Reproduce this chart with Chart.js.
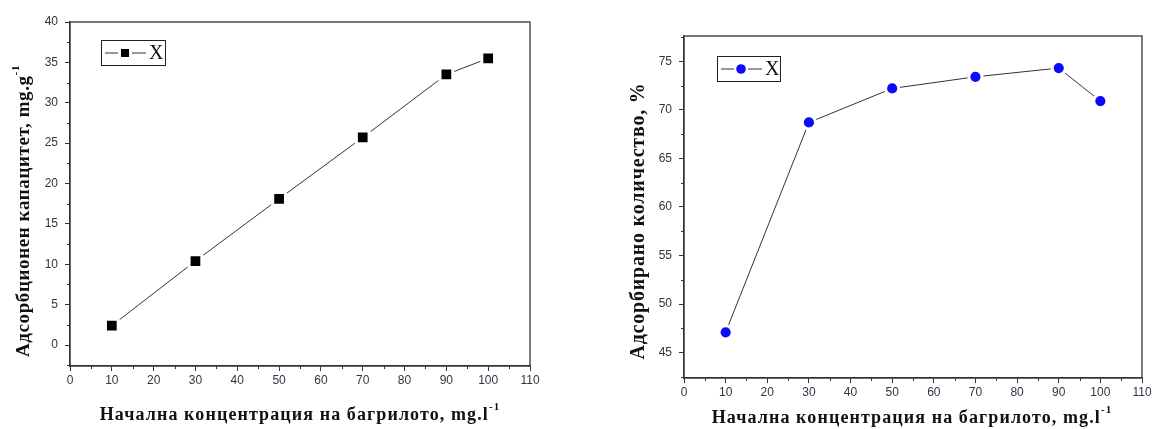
<!DOCTYPE html>
<html>
<head>
<meta charset="utf-8">
<script src="https://cdn.jsdelivr.net/npm/chart.js@4/dist/chart.umd.min.js"></script>
<style>
  body { margin: 0; background: #fff; }
  canvas { position: absolute; top: 0; }
  #left { left: 0; }
  #right { left: 580px; }
</style>
</head>
<body>
<canvas id="left" width="580" height="429"></canvas>
<canvas id="right" width="574" height="429"></canvas>
<script>
"use strict";

// Данни, отчетени от графиките
const concentrations = [10, 30, 50, 70, 90, 100];
const capacityValues = [2.4, 10.4, 18.1, 25.7, 33.5, 35.5];
const removalValues = [47.1, 68.7, 72.2, 73.4, 74.3, 70.9];
const seriesName = "X";
const xTitle = "Начална концентрация на багрилото, mg.l";
const leftYTitle = "Адсорбционен капацитет, mg.g";
const rightYTitle = "Адсорбирано количество, %";
const unitSup = "-1";

const axisColor = "#333";
const tickFont = { family: "'Liberation Sans', Arial, sans-serif", size: 12 };
const serif = "'Liberation Serif', 'Times New Roman', serif";

// текст с горен индекс, центриран в (x, y)
function drawSupText(ctx, main, sup, x, y, size, spacing) {
  ctx.save();
  ctx.letterSpacing = spacing + "px";
  ctx.font = "bold " + size + "px " + serif;
  const wMain = ctx.measureText(main).width;
  ctx.font = "bold " + Math.round(size * 0.6) + "px " + serif;
  const wSup = sup ? ctx.measureText(sup).width : 0;
  const start = x - (wMain + wSup) / 2;
  ctx.fillStyle = "#111";
  ctx.textAlign = "left";
  ctx.textBaseline = "middle";
  ctx.font = "bold " + size + "px " + serif;
  ctx.fillText(main, start, y);
  if (sup) {
    ctx.font = "bold " + Math.round(size * 0.6) + "px " + serif;
    ctx.fillText(sup, start + wMain, y - size * 0.42);
  }
  ctx.restore();
}

const decorPlugin = {
  id: "decor",
  afterDraw(chart, args, o) {
    const ctx = chart.ctx;
    const a = chart.chartArea;
    const xs = chart.scales.x;
    const ys = chart.scales.y;
    ctx.save();
    // рамка
    ctx.strokeStyle = axisColor;
    ctx.lineWidth = 1.3;
    ctx.strokeRect(a.left, a.top, a.right - a.left, a.bottom - a.top);
    // малки деления
    ctx.lineWidth = 1;
    ctx.beginPath();
    for (let v = 5; v < xs.max; v += 10) {
      const px = Math.round(xs.getPixelForValue(v)) + 0.5;
      ctx.moveTo(px, a.bottom);
      ctx.lineTo(px, a.bottom + 3);
    }
    for (let v = o.yMinorStart; v < ys.max; v += o.yMinorStep) {
      if (v <= ys.min) continue;
      const py = Math.round(ys.getPixelForValue(v)) + 0.5;
      ctx.moveTo(a.left, py);
      ctx.lineTo(a.left - 3, py);
    }
    ctx.stroke();

    // легенда
    const L = o.legend;
    ctx.lineWidth = 1;
    ctx.strokeStyle = "#222";
    ctx.strokeRect(L.x + 0.5, L.y + 0.5, L.w, L.h);
    const cy = L.y + L.h / 2 + 0.5;
    ctx.strokeStyle = "#333";
    ctx.beginPath();
    ctx.moveTo(L.x + 4, cy);
    ctx.lineTo(L.x + 17, cy);
    ctx.moveTo(L.x + 31, cy);
    ctx.lineTo(L.x + 45, cy);
    ctx.stroke();
    ctx.fillStyle = o.markerColor;
    if (o.marker === "rect") {
      ctx.fillRect(L.x + 20, cy - 4, 8, 8);
    } else {
      ctx.beginPath();
      ctx.arc(L.x + 24, cy, 4.8, 0, Math.PI * 2);
      ctx.fill();
    }
    ctx.fillStyle = "#111";
    ctx.font = "20px " + serif;
    ctx.textBaseline = "middle";
    ctx.textAlign = "left";
    ctx.fillText(seriesName, L.x + 48, cy + 1);
    ctx.restore();

    // заглавия на осите
    drawSupText(ctx, xTitle, unitSup, o.xTitle.x, o.xTitle.y, 18, 1.1);
    ctx.save();
    ctx.translate(o.yTitle.x, o.yTitle.y);
    ctx.rotate(-Math.PI / 2);
    drawSupText(ctx, o.yTitle.text, o.yTitle.sup, 0, 0, o.yTitle.size, o.yTitle.spacing);
    ctx.restore();
  }
};

function makeChart(id, values, cfg) {
  const canvas = document.getElementById(id);
  return new Chart(canvas.getContext("2d"), {
    type: "line",
    data: {
      labels: concentrations,
      datasets: [{
        label: seriesName,
        data: concentrations.map((c, i) => ({ x: c, y: values[i] })),
        borderColor: "#333",
        borderWidth: 1,
        backgroundColor: cfg.markerColor,
        pointStyle: cfg.marker,
        pointRadius: cfg.pointRadius,
        pointBorderColor: "#fff",
        pointBorderWidth: 3,
        tension: 0
      }]
    },
    options: {
      responsive: false,
      animation: false,
      devicePixelRatio: 1,
      layout: { padding: cfg.padding },
      plugins: {
        legend: { display: false },
        tooltip: { enabled: false },
        decor: cfg.decor
      },
      scales: {
        x: {
          type: "linear",
          min: 0,
          max: 110,
          afterFit: s => { s.height = cfg.xHeight; },
          border: { display: true, color: axisColor, width: 1.3 },
          grid: { drawOnChartArea: false, drawTicks: true, tickLength: 5, color: axisColor },
          ticks: { stepSize: 10, font: tickFont, color: "#333344", padding: 2, maxRotation: 0, includeBounds: false }
        },
        y: {
          min: cfg.yMin,
          max: cfg.yMax,
          afterFit: s => { s.width = cfg.yWidth; },
          border: { display: true, color: axisColor, width: 1.3 },
          grid: { drawOnChartArea: false, drawTicks: true, tickLength: 5, color: axisColor },
          ticks: { stepSize: 5, font: tickFont, color: "#333344", padding: 7, includeBounds: false }
        }
      }
    },
    plugins: [decorPlugin]
  });
}

makeChart("left", capacityValues, {
  marker: "rect",
  markerColor: "#000",
  pointRadius: 9,
  padding: { left: 0, top: 22, right: 50, bottom: 0 },
  xHeight: 63,
  yWidth: 70,
  yMin: -2.6,
  yMax: 40,
  decor: {
    yMinorStart: -2.5,
    yMinorStep: 5,
    marker: "rect",
    markerColor: "#000",
    legend: { x: 101, y: 40, w: 64, h: 25 },
    xTitle: { x: 300, y: 415 },
    yTitle: { x: 24, y: 211, text: leftYTitle, sup: unitSup, size: 19, spacing: 0.6 }
  }
});

makeChart("right", removalValues, {
  marker: "circle",
  markerColor: "#0a0aff",
  pointRadius: 6.6,
  padding: { left: 0, top: 36, right: 12, bottom: 0 },
  xHeight: 51,
  yWidth: 104,
  yMin: 42.4,
  yMax: 77.6,
  decor: {
    yMinorStart: 42.5,
    yMinorStep: 5,
    marker: "circle",
    markerColor: "#0a0aff",
    legend: { x: 137, y: 56, w: 63, h: 25 },
    xTitle: { x: 332, y: 418 },
    yTitle: { x: 59, y: 221, text: rightYTitle, sup: "", size: 20, spacing: 0.8 }
  }
});
</script>
</body>
</html>
